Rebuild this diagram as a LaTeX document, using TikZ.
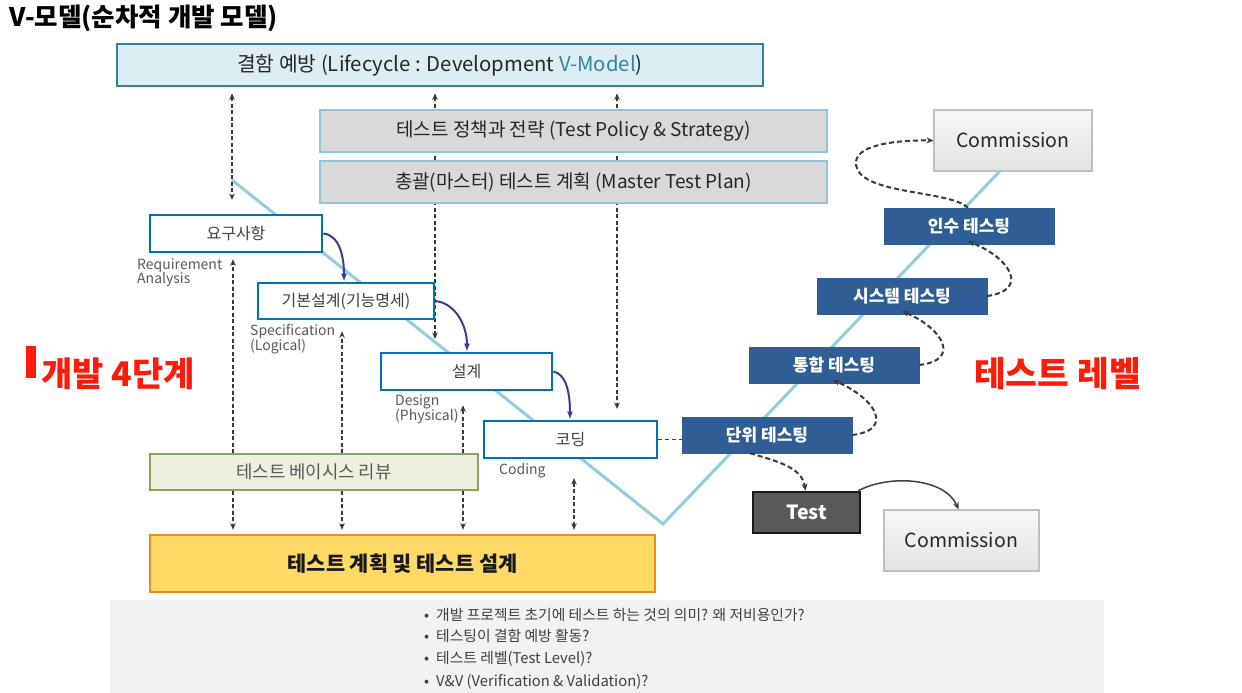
\documentclass[tikz,border=0pt]{standalone}
\usepackage{fontspec}
\setmainfont{Noto Sans CJK KR}
\usetikzlibrary{arrows.meta}
\definecolor{topfill}{HTML}{DCEEF4}
\definecolor{topdraw}{HTML}{31849B}
\definecolor{grayfill}{HTML}{D9D9D9}
\definecolor{graydraw}{HTML}{92C5DA}
\definecolor{vlinecol}{HTML}{92CDDC}
\definecolor{bluedraw}{HTML}{0070C0}
\definecolor{purp}{HTML}{3C3C96}
\definecolor{labgray}{HTML}{595959}
\definecolor{txtgray}{HTML}{404040}
\definecolor{dblue}{HTML}{2F5E96}
\definecolor{redt}{HTML}{FF1A0A}
\definecolor{greenfill}{HTML}{EBF1DE}
\definecolor{greendraw}{HTML}{8AA356}
\definecolor{yelfill}{HTML}{FFD966}
\definecolor{yeldraw}{HTML}{F08A1C}
\definecolor{comdraw}{HTML}{BFBFBF}
\definecolor{testfill}{HTML}{595959}
\definecolor{bandfill}{HTML}{F2F2F2}
\definecolor{dashcol}{HTML}{3A3A3A}
\newcommand{\fsz}[1]{\fontsize{#1}{#1}\selectfont}
\begin{document}
\begin{tikzpicture}[x=1pt,y=-1pt,
  every node/.style={inner sep=0pt},
  lvbox/.style={draw=bluedraw, line width=2.6, fill=white, font=\fsz{16}, text=txtgray},
  tlbox/.style={fill=dblue, draw=dblue, text=white, font=\bfseries\fsz{17}, minimum width=170, minimum height=36},
  graybox/.style={draw=graydraw, line width=1.6, fill=grayfill, font=\fsz{19}, text=black!85, minimum width=507, minimum height=42},
  combox/.style={draw=comdraw, line width=1.2, top color=gray!6, bottom color=gray!22, font=\fsz{19.5}, text=black!85},
  lab/.style={anchor=north west, align=left, font=\fsz{14}, text=labgray},
  darrow/.style={draw=dashcol, line width=1.6, dash pattern=on 4pt off 2.5pt, -{Stealth[length=6.5pt,width=5.5pt]}},
  ddarrow/.style={draw=dashcol, line width=1.6, dash pattern=on 4pt off 2.5pt, {Stealth[length=6.5pt,width=5.5pt]}-{Stealth[length=6.5pt,width=5.5pt]}},
  carrow/.style={draw=dashcol, line width=2, dash pattern=on 5pt off 3pt, -{Stealth[length=7pt,width=6pt]}},
  parrow/.style={draw=purp, line width=2, -{Latex[length=8pt,width=6pt]}},
  vl/.style={draw=vlinecol, line width=3}
]
\useasboundingbox (0,0) rectangle (1242,693);
\fill[white] (0,0) rectangle (1242,693);
% bottom band
\fill[bandfill] (110,600) rectangle (1104,693);
% title
\node[anchor=west, font=\bfseries\fsz{25.5}] (title) at (9,18) {V-모델(순차적 개발 모델)};
% V line
\coordinate (v0) at (232,180);
\coordinate (v1) at (663,524);
\coordinate (v2) at (1000,171);
\draw[vl] (v0) -- (v1) -- (v2);
% x positions
\coordinate (xa) at (232,0);
\coordinate (xb) at (435,0);
\coordinate (xc) at (617,0);
\coordinate (xg1) at (233,0);
\coordinate (xg2) at (342,0);
\coordinate (xg3) at (463,0);
\coordinate (xd) at (574,0);
\coordinate (a2) at (232,200);
\coordinate (b2) at (435,339);
\coordinate (c2) at (617,409);
\coordinate (d2) at (574,478);
% nodes
\node[draw=topdraw, line width=2.8, fill=topfill, minimum width=646, minimum height=42, font=\fsz{20.3}, text=black!85] (top) at (440,65) {결함 예방 (Lifecycle : Development \textcolor{topdraw}{V-Model})};
% long dashed lines behind gray boxes
\draw[ddarrow, shorten <=6] (top.south -| xa) -- (a2);
\draw[ddarrow, shorten <=6] (top.south -| xb) -- (b2);
\draw[ddarrow, shorten <=6] (top.south -| xc) -- (c2);
\node[graybox] (policy) at (573.5,131) {테스트 정책과 전략 (Test Policy \& Strategy)};
\node[graybox] (master) at (573.5,182) {총괄(마스터) 테스트 계획 (Master Test Plan)};
\node[lvbox, minimum width=172, minimum height=37] (req) at (236,233.5) {요구사항};
\node[lvbox, minimum width=176, minimum height=36] (spec) at (346,301) {기본설계(기능명세)};
\node[lvbox, minimum width=171, minimum height=37] (des) at (466.5,371.5) {설계};
\node[lvbox, minimum width=173, minimum height=37] (cod) at (570.5,439.5) {코딩};
\node[draw=greendraw, line width=2, fill=greenfill, minimum width=328, minimum height=36, font=\fsz{17.8}, text=labgray] (green) at (314,472) {테스트 베이시스 리뷰};
\node[draw=yeldraw, line width=2.6, fill=yelfill, minimum width=505, minimum height=57, font=\bfseries\fsz{20.8}, text=black!90] (yel) at (402.5,563.5) {테스트 계획 및 테스트 설계};
% labels
\node[lab] (lreq) at (137,258) {Requirement\\[-1pt]Analysis};
\node[lab] (lspec) at (250,324) {Specification\\[-1pt](Logical)};
\node[lab] (ldes) at (395,394) {Design\\[-1pt](Physical)};
\node[lab] (lcod) at (499,463) {Coding};
% purple arrows
\draw[parrow] (req.east) .. controls (340,235) and (344,258) .. (spec.north -| 344,0);
\draw[parrow] (spec.east) .. controls (455,303) and (467,325) .. (des.north -| 467,0);
\draw[parrow] (des.east) .. controls (567,374) and (570,395) .. (cod.north -| 570,0);
% dashed arrows from green box
\draw[darrow, shorten >=6] (green.north -| xg1) -- (req.south -| xg1);
\draw[darrow, shorten >=11] (green.north -| xg2) -- (spec.south -| xg2);
\draw[darrow, shorten >=14] (green.north -| xg3) -- (des.south -| xg3);
\draw[darrow, shorten >=4] (green.south -| xg1) -- (yel.north -| xg1);
\draw[darrow, shorten >=4] (green.south -| xg2) -- (yel.north -| xg2);
\draw[darrow, shorten >=4] (green.south -| xg3) -- (yel.north -| xg3);
\draw[ddarrow, shorten <=4] (yel.north -| xd) -- (d2);
% red texts
\fill[redt] (26,346) rectangle (36,378);
\node[anchor=west, font=\bfseries\fsz{34}, text=redt] (dev4) at (41,374) {개발 4단계};
\node[anchor=west, font=\bfseries\fsz{34.5}, text=redt] (tlev) at (974,374) {테스트 레벨};
% test level boxes
\node[tlbox] (t4) at (969,226) {인수 테스팅};
\node[tlbox] (t3) at (902,296) {시스템 테스팅};
\node[tlbox] (t2) at (834,365) {통합 테스팅};
\node[tlbox] (t1) at (767,435) {단위 테스팅};
\node[combox, minimum width=158, minimum height=61] (com1) at (1013,140.5) {Commission};
\node[draw=black!90, line width=2.6, fill=testfill, minimum width=107, minimum height=41, font=\bfseries\fsz{19.5}, text=white] (test) at (806.5,512.5) {Test};
\node[combox, minimum width=155, minimum height=61] (com2) at (961.5,540.5) {Commission};
% coding - unit dashed
\draw[draw=dashcol, line width=1.8, dash pattern=on 4pt off 3pt] (cod.east) -- (cod.east -| t1.west);
% right dashed curves
\draw[carrow] (t1.east) .. controls (895,430) and (875,398) .. ([shift={(-1,-3)}]t2.south);
\draw[carrow] (t2.east) .. controls (962,360) and (942,328) .. ([shift={(0,-3)}]t3.south);
\draw[carrow] (t3.east) .. controls (1030,290) and (1010,258) .. ([shift={(-1,-3)}]t4.south);
\draw[carrow] ([xshift=-1]t4.north) .. controls (950,190) and (860,195) .. (856,165) .. controls (853,145) and (895,140) .. (com1.west);
\draw[carrow] ([xshift=-17]t1.south) .. controls (780,462) and (802,468) .. ([xshift=-1]test.north);
\draw[draw=black!75, line width=1.5, -{Stealth[length=7pt,width=6pt]}] ([xshift=-3]test.north east) .. controls (890,474) and (945,478) .. ([xshift=-3]com2.north);
% bullets
\node[anchor=west, align=left, font=\fsz{14.8}, text=txtgray] (bul) at (424,648.5) {%
•\hspace{7pt}개발 프로젝트 초기에 테스트 하는 것의 의미? 왜 저비용인가?\\[6.8pt]
•\hspace{7pt}테스팅이 결함 예방 활동?\\[6.8pt]
•\hspace{7pt}테스트 레벨(Test Level)?\\[6.8pt]
•\hspace{7pt}V\&V (Verification \& Validation)?};
\end{tikzpicture}
\end{document}
